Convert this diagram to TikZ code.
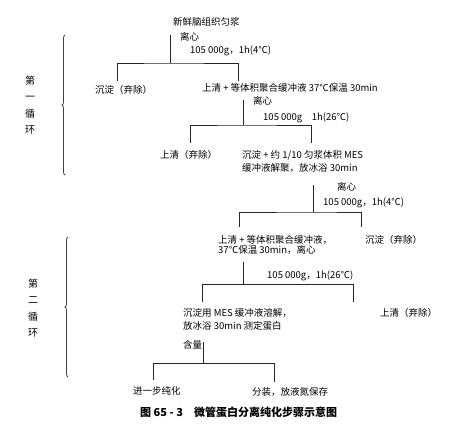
\documentclass[tikz,border=0pt]{standalone}
\usepackage{fontspec}
\setmainfont{Noto Sans CJK SC}
\usepackage{tikz}
\usetikzlibrary{decorations.pathreplacing}

\begin{document}
\begin{tikzpicture}[
    x=1pt, y=-1pt,
    font=\fontsize{9.5}{13}\selectfont,
    txt/.style={inner sep=0pt, anchor=west},
    para/.style={inner sep=0pt, anchor=north west, align=left},
    cyc/.style={inner sep=0pt, align=center, font=\fontsize{10}{16.5}\selectfont},
    ln/.style={black!85, line width=0.8pt},
    brc/.style={black!75, line width=0.8pt, decorate, decoration={brace, amplitude=3pt}}
]
\useasboundingbox (0,0) rectangle (462,440);

% first cycle
\node[txt] (homog) at (173,22) {新鲜脑组织匀浆};
\node[txt] (spin1) at (180,37) {离心};
\node[txt] (cond1) at (190,51) {105 000g，1h(4℃)};
\node[txt] (ppt1) at (95,90) {沉淀（弃除）};
\node[txt] (sup1) at (202,88) {上清 + 等体积聚合缓冲液 37℃保温 30min};
\node[txt] (spin2) at (253,101) {离心};
\node[txt] (cond2) at (263,118) {105 000g\quad 1h(26℃)};
\node[txt] (sup2) at (160,155) {上清（弃除）};
\node[para] (ppt2) at (242,150) {沉淀 + 约 1/10 匀浆体积 MES\\缓冲液解聚，放冰浴 30min};

% second cycle
\node[txt] (spin3) at (337,187) {离心};
\node[txt] (cond3) at (323,203) {105 000g，1h(4℃)};
\node[para] (sup3) at (218,235) {上清 + 等体积聚合缓冲液，\\[-3pt]37℃保温 30min，离心};
\node[txt] (ppt3) at (365,240) {沉淀（弃除）};
\node[txt] (cond4) at (267,276) {105 000g，1h(26℃)};
\node[para] (ppt4) at (183,308) {沉淀用 MES 缓冲液溶解，\\放冰浴 30min 测定蛋白\\[6pt]含量};
\node[txt] (sup4) at (380,313) {上清（弃除）};
\node[txt] (purify) at (133,391) {进一步纯化};
\node[txt] (store) at (252,392) {分装，放液氮保存};

% branch points
\coordinate (s1) at (170,35);  \coordinate (j1) at (170,63);
\coordinate (l1) at (117,81);  \coordinate (r1) at (238,81);
\coordinate (s2) at (243,100); \coordinate (j2) at (243,125);
\coordinate (l2) at (190,143); \coordinate (r2) at (311,143);
\coordinate (s3) at (313,185); \coordinate (j3) at (313,212);
\coordinate (l3) at (239,227); \coordinate (r3) at (361,227);
\coordinate (s4) at (243,262); \coordinate (j4) at (243,284);
\coordinate (l4) at (202,302); \coordinate (r4) at (353,302);
\coordinate (s5) at (203,342); \coordinate (j5) at (203,363);
\coordinate (l5) at (153,380); \coordinate (r5) at (274,382);

\foreach \k in {1,...,5} {
    \draw[ln] (s\k) -- (j\k);
    \draw[ln] (l\k) |- (j\k) -| (r\k);
}

% cycle braces
\draw[brc] (65,175) -- (65,35);
\node[cyc] (cyc1) at (30,105) {第\\一\\循\\环};
\draw[brc] (68,377) -- (68,237);
\node[cyc] (cyc2) at (33,308) {第\\二\\循\\环};

\node[txt, font=\fontsize{11}{13}\selectfont\bfseries] (title) at (140,412) {图 65 - 3\quad 微管蛋白分离纯化步骤示意图};
\end{tikzpicture}
\end{document}
